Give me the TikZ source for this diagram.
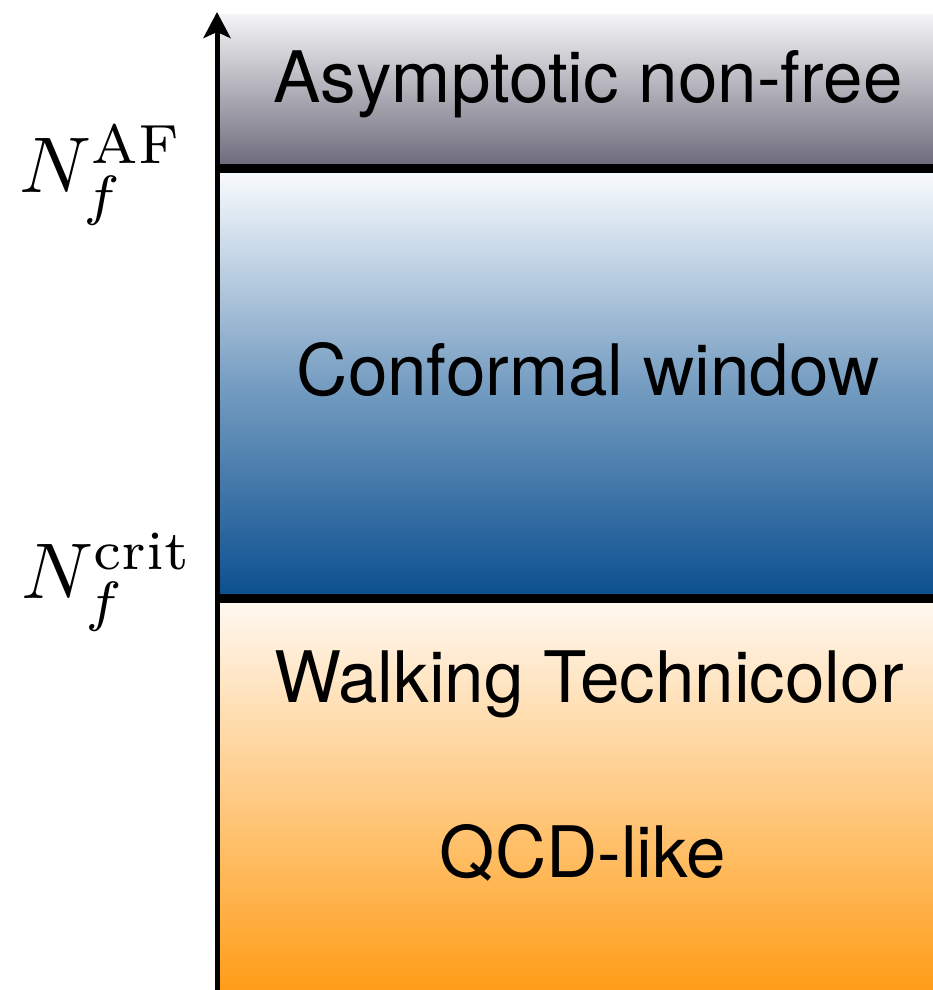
\documentclass[tikz,border=0pt]{standalone}
\usepackage{fontspec}
\newfontfamily\heros{TeX Gyre Heros}
\usetikzlibrary{arrows.meta}
\definecolor{graytop}{HTML}{F4F4F6}
\definecolor{graybot}{HTML}{6B6979}
\definecolor{bluetop}{HTML}{FBFDFF}
\definecolor{bluebot}{HTML}{0A4F8F}
\definecolor{orantop}{HTML}{FFF9F2}
\definecolor{oranbot}{HTML}{FF9D18}
\tikzset{
  band/.style={draw=none},
  sep/.style={line width=9pt, black},
  axisline/.style={line width=5pt, black, -{Stealth[length=26pt,width=27pt,inset=6pt]}},
  region/.style={font=\heros\fontsize{71}{84}\selectfont, inner sep=0pt, anchor=base},
  mlabel/.style={scale=7.9, inner sep=0pt, anchor=base west},
}
\begin{document}
\begin{tikzpicture}[x=1pt,y=-1pt]
\useasboundingbox (0,0) rectangle (933,990);
% bands
\shade[band, top color=graytop, bottom color=graybot] (217,15) rectangle (933,168);
\shade[band, top color=bluetop, bottom color=bluebot, middle color=bluetop!45!bluebot] (217,168) rectangle (933,598);
\shade[band, top color=orantop, bottom color=oranbot] (217,598) rectangle (933,990);
% separators
\coordinate (afL) at (217,168);
\coordinate (afR) at (933,168);
\coordinate (crL) at (217,598);
\coordinate (crR) at (933,598);
\draw[sep] (afL) -- (afR);
\draw[sep] (crL) -- (crR);
% axis
\coordinate (axB) at (217,990);
\coordinate (axT) at (217,12);
\draw[axisline] (axB) -- (axT);
% region labels
\node[region] (anf) at (588,102) {Asymptotic non-free};
\node[region] (cw)  at (588,395) {Conformal window};
\node[region] (wt)  at (589,702) {Walking Technicolor};
\node[region] (qcd) at (583,877) {QCD-like};
% axis labels
\node[mlabel] (naf)   at (18,192) {$N_f^{\mathrm{AF}}$};
\node[mlabel] (ncrit) at (20,598) {$N_f^{\mathrm{crit}}$};
\end{tikzpicture}
\end{document}
